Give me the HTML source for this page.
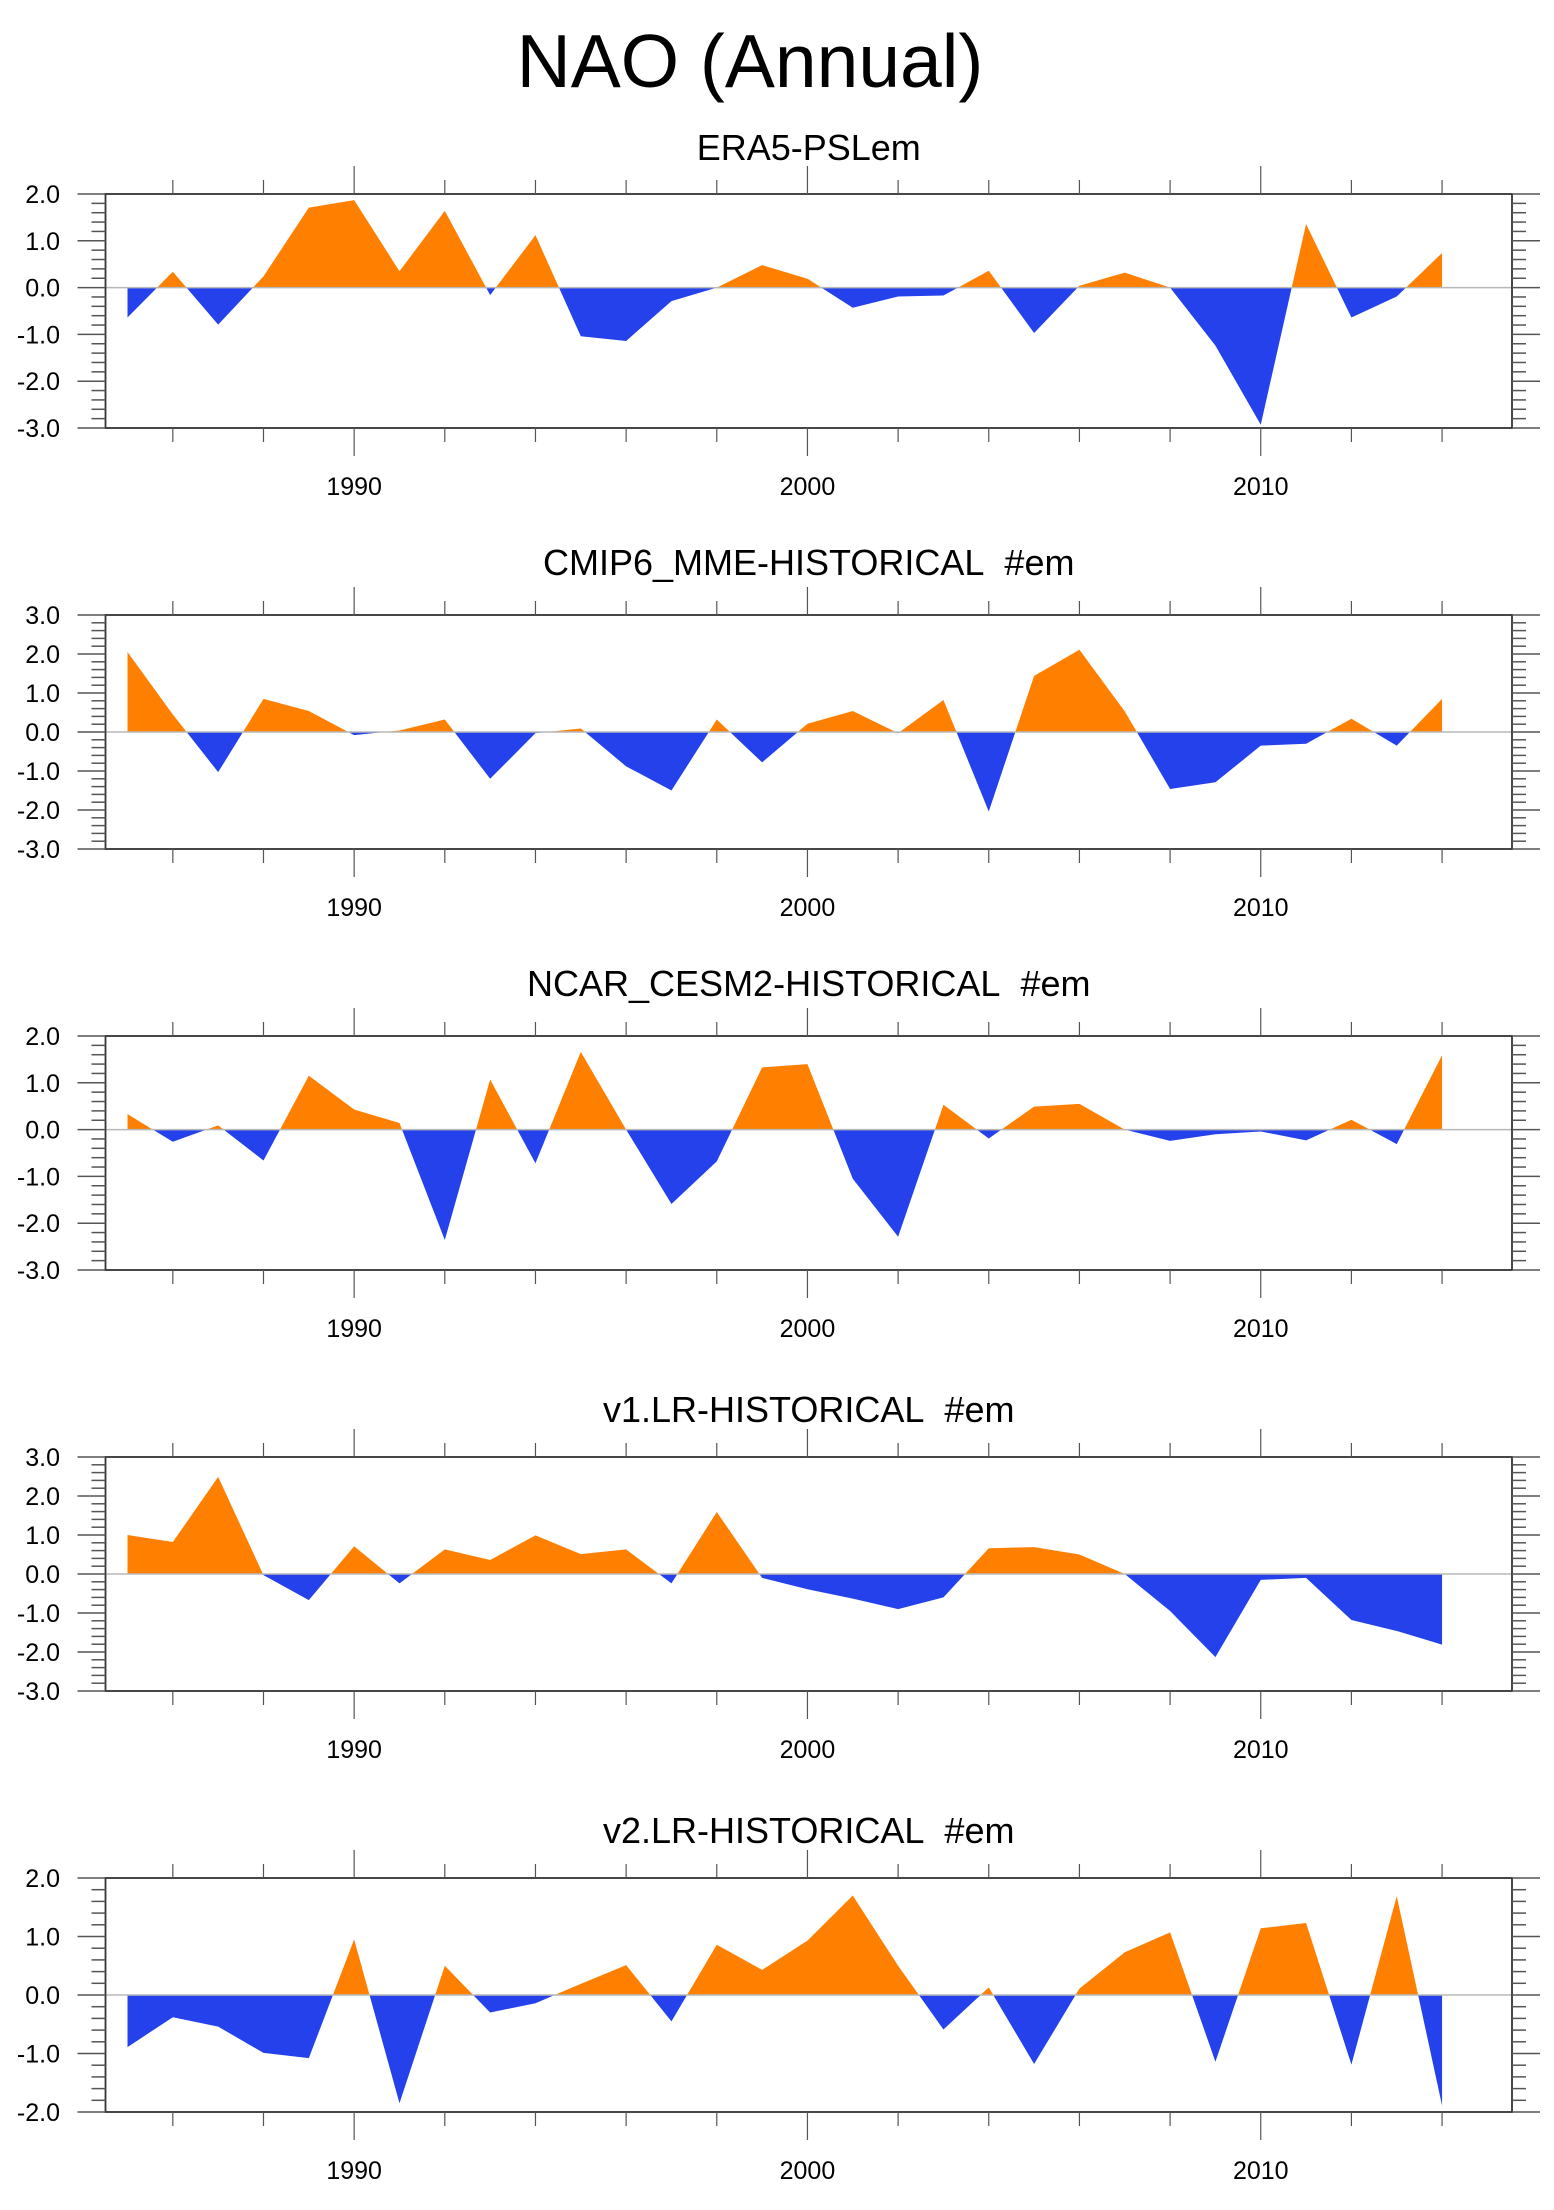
<!DOCTYPE html>
<html><head><meta charset="utf-8"><style>
html,body{margin:0;padding:0;background:#fff;}
svg{display:block;font-family:"Liberation Sans",sans-serif;}
</style></head><body>
<svg id="chart" width="1554" height="2210" viewBox="0 0 1554 2210" xmlns="http://www.w3.org/2000/svg">
<text x="750" y="87" font-size="75" text-anchor="middle">NAO (Annual)</text>
</svg>
<script>
const years = [1985,1986,1987,1988,1989,1990,1991,1992,1993,1994,1995,1996,1997,1998,1999,2000,2001,2002,2003,2004,2005,2006,2007,2008,2009,2010,2011,2012,2013,2014];
const panelTitles = ["ERA5-PSLem","CMIP6_MME-HISTORICAL\u00a0\u00a0#em","NCAR_CESM2-HISTORICAL\u00a0\u00a0#em","v1.LR-HISTORICAL\u00a0\u00a0#em","v2.LR-HISTORICAL\u00a0\u00a0#em"];
const era5 = [-0.64,0.34,-0.79,0.24,1.71,1.87,0.35,1.64,-0.16,1.12,-1.04,-1.14,-0.29,0.0,0.48,0.19,-0.43,-0.19,-0.17,0.36,-0.97,0.04,0.32,0.0,-1.24,-2.93,1.36,-0.64,-0.19,0.74];
const cmip6 = [2.05,0.45,-1.03,0.85,0.54,-0.08,0.04,0.32,-1.2,-0.03,0.09,-0.88,-1.5,0.32,-0.78,0.21,0.54,-0.03,0.82,-2.04,1.44,2.11,0.53,-1.46,-1.29,-0.35,-0.3,0.34,-0.35,0.85];
const cesm2 = [0.33,-0.26,0.09,-0.66,1.15,0.43,0.14,-2.36,1.07,-0.72,1.66,0.0,-1.59,-0.68,1.33,1.4,-1.05,-2.29,0.53,-0.19,0.49,0.55,0.0,-0.24,-0.1,-0.04,-0.23,0.21,-0.31,1.59];
const v1lr = [1.0,0.82,2.49,-0.03,-0.67,0.71,-0.24,0.63,0.36,0.99,0.51,0.63,-0.24,1.59,-0.1,-0.39,-0.63,-0.9,-0.6,0.66,0.69,0.5,0.0,-0.95,-2.13,-0.15,-0.1,-1.18,-1.46,-1.81];
const v2lr = [-0.89,-0.38,-0.54,-0.99,-1.08,0.95,-1.85,0.5,-0.3,-0.14,0.19,0.51,-0.45,0.86,0.43,0.93,1.7,0.5,-0.59,0.13,-1.18,0.11,0.73,1.07,-1.14,1.14,1.23,-1.19,1.69,-1.89];
const yMins = [-3,-3,-3,-3,-2];
const yMaxs = [2,3,2,3,2];
const xTickYears = [1990,2000,2010];

const series = [era5,cmip6,cesm2,v1lr,v2lr];
const NS = "http://www.w3.org/2000/svg";
const svg = document.getElementById('chart');
function mk(tag, attrs, parent){const e=document.createElementNS(NS,tag);for(const k in attrs)e.setAttribute(k,attrs[k]);(parent||svg).appendChild(e);return e;}
const L=105.5, R=1512, H=234;
const titleGap=[34,40,40,35,35];
function xs(yr){return 127.5+(yr-1985)*45.33;}

for(let p=0;p<5;p++){
  const top=194+421*p, bot=top+H;
  const ymin=yMins[p], ymax=yMaxs[p];
  const ys=v=>bot-(v-ymin)/(ymax-ymin)*H;
  const g=mk('g',{});
  
  
  const t=mk('text',{x:(L+R)/2,y:top-titleGap[p],'font-size':36,'text-anchor':'middle'},g);
  t.textContent=panelTitles[p];
  
  
  const d=series[p];
  let pts=xs(years[0])+','+ys(0)+' ';
  for(let i=0;i<d.length;i++)pts+=xs(years[i])+','+ys(d[i])+' ';
  pts+=xs(years[years.length-1])+','+ys(0);
  const y0=ys(0);
  const cu=mk('clipPath',{id:'cu'+p},g);mk('rect',{x:L,y:top,width:R-L,height:y0-top},cu);
  const cd=mk('clipPath',{id:'cd'+p},g);mk('rect',{x:L,y:y0,width:R-L,height:bot-y0},cd);
  const pu=mk('polygon',{points:pts,fill:'#ff8000','clip-path':'url(#cu'+p+')'},g);
  
  
  const pd=mk('polygon',{points:pts,fill:'#2541eb','clip-path':'url(#cd'+p+')'},g);
  
  
  const zl=mk('line',{x1:L,x2:R,y1:y0,y2:y0,stroke:'#b8b8b8','stroke-width':1.5},g);
  
  
  mk('rect',{x:L,y:top,width:R-L,height:H,fill:'none',stroke:'#333','stroke-width':1.8},g);
  for(let yr=1986;yr<=2014;yr+=2){
    const x=xs(yr);const major=(yr%10===0);const len=major?28:14;
    mk('line',{x1:x,x2:x,y1:top-len,y2:top,stroke:'#555','stroke-width':1.2},g);
    mk('line',{x1:x,x2:x,y1:bot,y2:bot+len,stroke:'#555','stroke-width':1.2},g);
  }
  for(const yr of xTickYears){
    const tl=mk('text',{x:xs(yr),y:bot+67,'font-size':25,'text-anchor':'middle'},g);
    tl.textContent=yr;
    
    
  }
  const n=Math.round((ymax-ymin)/0.2);
  for(let k=0;k<=n;k++){
    const v=ymin+k*0.2;const y=ys(v);const major=(k%5===0);const len=major?28:14;
    mk('line',{x1:L-len,x2:L,y1:y,y2:y,stroke:'#555','stroke-width':1.5},g);
    mk('line',{x1:R,x2:R+len,y1:y,y2:y,stroke:'#555','stroke-width':1.5},g);
    if(major){
      const yl=mk('text',{x:60,y:y+9,'font-size':25,'text-anchor':'end'},g);
      yl.textContent=v.toFixed(1);
      
      
    }
  }
}
</script>
</body></html>
